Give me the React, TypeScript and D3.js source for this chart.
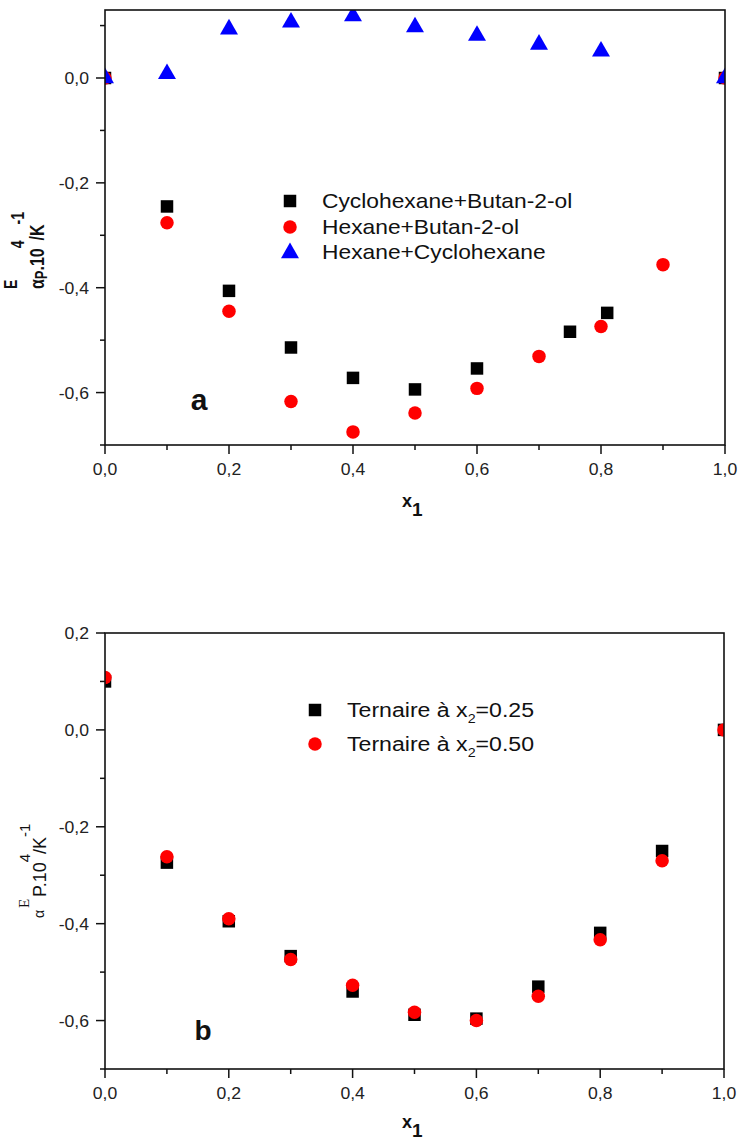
import React from 'react'
import * as d3 from 'd3'

// panel a
const xCycBut = [0, 0.1, 0.2, 0.3, 0.4, 0.5, 0.6, 0.75, 0.81, 1.0]
const yCycBut = [0, -0.245, -0.406, -0.514, -0.572, -0.594, -0.554, -0.484, -0.448, 0]
const xHexBut = [0, 0.1, 0.2, 0.3, 0.4, 0.5, 0.6, 0.7, 0.8, 0.9, 1.0]
const yHexBut = [0, -0.276, -0.445, -0.617, -0.675, -0.639, -0.592, -0.531, -0.474, -0.356, 0]
const xHexCyc = [0, 0.1, 0.2, 0.3, 0.4, 0.5, 0.6, 0.7, 0.8, 1.0]
const yHexCyc = [0, 0.008, 0.093, 0.106, 0.118, 0.097, 0.081, 0.064, 0.051, 0]

// panel b
const xTern = [0, 0.1, 0.2, 0.3, 0.4, 0.5, 0.6, 0.7, 0.8, 0.9, 1.0]
const yTern25 = [0.1, -0.274, -0.395, -0.467, -0.54, -0.588, -0.596, -0.53, -0.419, -0.25, 0]
const yTern50 = [0.108, -0.262, -0.39, -0.474, -0.527, -0.583, -0.6, -0.55, -0.433, -0.27, 0]

const xMajor = [0, 0.2, 0.4, 0.6, 0.8, 1.0]
const xMinor = [0.1, 0.3, 0.5, 0.7, 0.9]
const yMajorA = [0, -0.2, -0.4, -0.6]
const yMinorA = [0.1, -0.1, -0.3, -0.5, -0.7]
const yMajorB = [0.2, 0, -0.2, -0.4, -0.6]
const yMinorB = [0.1, -0.1, -0.3, -0.5, -0.7]

const legendA = ['Cyclohexane+Butan-2-ol', 'Hexane+Butan-2-ol', 'Hexane+Cyclohexane']

const FONT = 'Liberation Sans, Arial, sans-serif'
const fmt = (v: number) => d3.format('.1f')(v).replace('.', ',').replace('\u2212', '-')

const sq = d3.symbol().type(d3.symbolSquare).size(156)()
const circ = d3.symbol().type(d3.symbolCircle).size(143)()
const tri = d3.symbol().type(d3.symbolTriangle).size(140)()

const SText = ({ x, y, size, anchor = 'start', weight = 'normal', fill = '#111', sx = 1.1, children }: any) => (
    <text transform={`translate(${x},${y}) scale(${sx},1)`} fontSize={size} textAnchor={anchor}
        fontWeight={weight} fill={fill} fontFamily={FONT}>{children}</text>
)

const Frame = ({ id, x, y, yMajor, yMinor, children }: any) => {
    const [x0, x1] = x.range()
    const [y0, y1] = y.range()
    return (
        <g>
            <clipPath id={id}><rect x={x0} y={y1} width={x1 - x0} height={y0 - y1} /></clipPath>
            <g clipPath={`url(#${id})`}>{children}</g>
            <rect x={x0} y={y1} width={x1 - x0} height={y0 - y1} fill="none" stroke="#111" strokeWidth={1.6} />
            {xMajor.map(t => <line key={'xm' + t} x1={x(t)} x2={x(t)} y1={y0} y2={y0 + 9} stroke="#111" strokeWidth={1.5} />)}
            {xMinor.map(t => <line key={'xn' + t} x1={x(t)} x2={x(t)} y1={y0} y2={y0 + 5} stroke="#111" strokeWidth={1.5} />)}
            {yMajor.map((t: number) => <line key={'ym' + t} x1={x0 - 9} x2={x0} y1={y(t)} y2={y(t)} stroke="#111" strokeWidth={1.5} />)}
            {yMinor.map((t: number) => <line key={'yn' + t} x1={x0 - 5} x2={x0} y1={y(t)} y2={y(t)} stroke="#111" strokeWidth={1.5} />)}
            {xMajor.map(t => <SText key={'xl' + t} x={x(t)} y={y0 + 30} size={16} anchor="middle" fill="#222">{fmt(t)}</SText>)}
            {yMajor.map((t: number) => <SText key={'yl' + t} x={x0 - 16} y={y(t) + 6} size={16} anchor="end" fill="#222">{fmt(t)}</SText>)}
        </g>
    )
}

const App = () => {
    const xA = d3.scaleLinear().domain([0, 1]).range([105, 725])
    const yA = d3.scaleLinear().domain([-0.7, 0.1297]).range([445, 10])
    const xB = d3.scaleLinear().domain([0, 1]).range([105, 724])
    const yB = d3.scaleLinear().domain([-0.7, 0.2]).range([1069, 633])

    return (
        <svg width={739} height={1142} style={{ position: 'absolute', left: 0, top: 0, background: '#fff' }}>
            {/* panel a */}
            <Frame id="clipA" x={xA} y={yA} yMajor={yMajorA} yMinor={yMinorA}>
                {xCycBut.map((v, i) => <path key={'s' + i} d={sq} transform={`translate(${xA(v)},${yA(yCycBut[i])})`} fill="#000" />)}
                {xHexBut.map((v, i) => <path key={'c' + i} d={circ} transform={`translate(${xA(v)},${yA(yHexBut[i])})`} fill="#f00" />)}
                {xHexCyc.map((v, i) => <path key={'t' + i} d={tri} transform={`translate(${xA(v)},${yA(yHexCyc[i])})`} fill="#00f" />)}
            </Frame>
            <path d={sq} transform="translate(290,201)" fill="#000" />
            <path d={circ} transform="translate(290,227)" fill="#f00" />
            <path d={tri} transform="translate(290,253)" fill="#00f" />
            {legendA.map((s, i) => <SText key={s} x={322} y={208 + i * 25.5} size={20} sx={1.14}>{s}</SText>)}
            <text x={199} y={410} fontSize={30} fontWeight="bold" textAnchor="middle" fontFamily={FONT} fill="#111">a</text>
            <text x={402} y={507} fontSize={18} fontWeight="bold" fontFamily={FONT} fill="#111">x<tspan fontSize={19} dy={9}>1</tspan></text>
            <g transform="translate(44,289) rotate(-90) scale(1,1.25)" fontFamily={FONT} fontWeight="bold" fill="#111">
                <text x={0} y={0} fontSize={16}>α<tspan fontSize={13} dy={2.5}>P</tspan><tspan dy={-2.5}>.10</tspan><tspan fontSize={14} dy={-16}>4</tspan><tspan dy={16}>/K</tspan><tspan fontSize={14} dy={-16}>-1</tspan></text>
                <text x={0} y={-22} fontSize={14}>E</text>
            </g>

            {/* panel b */}
            <Frame id="clipB" x={xB} y={yB} yMajor={yMajorB} yMinor={yMinorB}>
                {xTern.map((v, i) => <path key={'s' + i} d={sq} transform={`translate(${xB(v)},${yB(yTern25[i])})`} fill="#000" />)}
                {xTern.map((v, i) => <path key={'c' + i} d={circ} transform={`translate(${xB(v)},${yB(yTern50[i])})`} fill="#f00" />)}
            </Frame>
            <path d={sq} transform="translate(315,710)" fill="#000" />
            <path d={circ} transform="translate(315,744)" fill="#f00" />
            <SText x={347} y={717} size={21}>Ternaire à x<tspan fontSize={13} dy={6}>2</tspan><tspan dy={-6}>=0.25</tspan></SText>
            <SText x={347} y={751} size={21}>Ternaire à x<tspan fontSize={13} dy={6}>2</tspan><tspan dy={-6}>=0.50</tspan></SText>
            <text x={203} y={1040} fontSize={28} fontWeight="bold" textAnchor="middle" fontFamily={FONT} fill="#111">b</text>
            <text x={402} y={1128} fontSize={18} fontWeight="bold" fontFamily={FONT} fill="#111">x<tspan fontSize={19} dy={9}>1</tspan></text>
            <g transform="translate(46,918) rotate(-90)" fontFamily={FONT} fill="#111">
                <text x={0} y={-2} fontSize={14}>α</text>
                <text x={10} y={-17} fontSize={15} fontFamily="Liberation Serif, serif">E</text>
                <text x={21} y={0} fontSize={18}>P.10<tspan fontSize={15} dy={-16}>4</tspan><tspan dy={16}>/K</tspan><tspan fontSize={15} dy={-16}>-1</tspan></text>
            </g>
        </svg>
    )
}

export default App
